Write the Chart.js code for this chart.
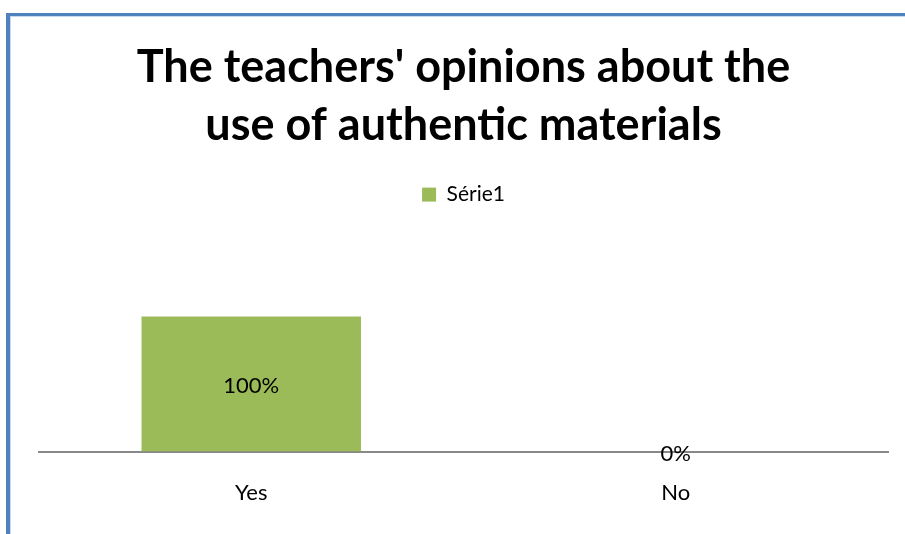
<!DOCTYPE html>
<html>
<head>
<meta charset="utf-8">
<script src="https://cdn.jsdelivr.net/npm/chart.js@4/dist/chart.umd.min.js"></script>
<style>
  html, body { margin: 0; padding: 0; background: #fff; }
  #wrap { position: relative; width: 905px; height: 534px; overflow: hidden; }
  #frame { position: absolute; left: 6px; top: 13px; right: -10px; bottom: -10px;
           border-left: 4px solid #4F81BD; border-top: 3px solid #4F81BD; }
  #frame:after { content: ''; position: absolute; left: 0; top: 0; right: 0; bottom: 0;
           border-left: 1px solid #C6D9F1; border-top: 1px solid #C6D9F1; }
  canvas { position: absolute; left: 0; top: 0; }
</style>
</head>
<body>
<div id="wrap">
  <div id="frame"></div>
  <canvas id="c" width="905" height="534"></canvas>
</div>
<script>
const categories = ['Yes', 'No'];
const seriesName = 'Série1';
const values = [100, 0];
const valueLabels = ['100%', '0%'];
const titleLines = ["The teachers' opinions about the", "use of authentic materials"];

const FONT = 'Lato, "Open Sans", sans-serif';

const labelPlugin = {
  id: 'barLabels',
  afterDatasetsDraw(chart) {
    const ctx = chart.ctx;
    const meta = chart.getDatasetMeta(0);
    ctx.save();
    ctx.fillStyle = '#000';
    ctx.font = '22px ' + FONT;
    ctx.textAlign = 'center';
    ctx.textBaseline = 'middle';
    meta.data.forEach((bar, i) => {
      const p = bar.getProps(['x', 'y', 'base'], true);
      ctx.fillText(valueLabels[i], p.x, (p.y + p.base) / 2 + 2);
    });
    ctx.restore();
  }
};

new Chart(document.getElementById('c'), {
  type: 'bar',
  data: {
    labels: categories,
    datasets: [{
      label: seriesName,
      data: values,
      backgroundColor: '#9BBB59',
      borderWidth: 0,
      barPercentage: 1.0,
      categoryPercentage: 0.517
    }]
  },
  options: {
    responsive: false,
    animation: false,
    layout: { padding: { left: 39, right: 17, top: 0, bottom: 0 } },
    plugins: {
      title: {
        display: true,
        text: titleLines,
        color: '#000',
        font: { family: FONT, size: 45, weight: 'bold', lineHeight: 1.29 },
        padding: { top: 38, bottom: 20 }
      },
      legend: {
        display: true,
        position: 'top',
        labels: {
          color: '#000',
          font: { family: FONT, size: 21 },
          boxWidth: 14,
          boxHeight: 14,
          padding: 10
        }
      },
      tooltip: { enabled: false }
    },
    scales: {
      x: {
        grid: { display: false, drawTicks: false },
        border: { display: true, color: '#888888', width: 2 },
        ticks: { color: '#000', font: { family: FONT, size: 22 }, padding: 28 }
      },
      y: {
        display: false,
        min: 0,
        max: 175
      }
    }
  },
  plugins: [labelPlugin]
});
</script>
</body>
</html>
